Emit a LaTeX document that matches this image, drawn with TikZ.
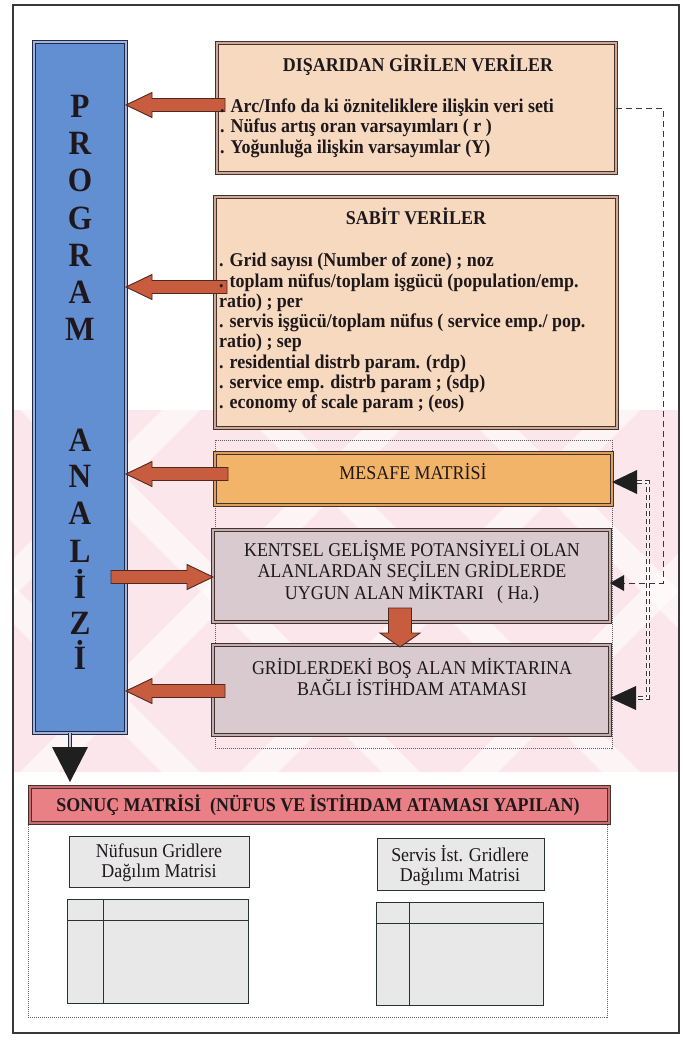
\documentclass[tikz,border=0pt]{standalone}
\usepackage{fontspec}
\setmainfont{Liberation Serif}[FakeStretch=0.92]
\usetikzlibrary{calc,arrows.meta}

\definecolor{framecol}{RGB}{55,55,60}
\definecolor{inkcol}{RGB}{30,24,28}
\definecolor{barfill}{RGB}{98,143,210}
\definecolor{barline}{RGB}{35,40,70}
\definecolor{bargap}{RGB}{160,180,220}
\definecolor{peach}{RGB}{246,217,190}
\definecolor{brownline}{RGB}{70,50,42}
\definecolor{browngap}{RGB}{205,170,150}
\definecolor{orangefill}{RGB}{241,180,104}
\definecolor{orangegap}{RGB}{220,160,90}
\definecolor{mauvefill}{RGB}{216,202,207}
\definecolor{mauvegap}{RGB}{190,175,180}
\definecolor{salmon}{RGB}{232,128,133}
\definecolor{salmongap}{RGB}{200,110,115}
\definecolor{arrowfill}{RGB}{200,92,62}
\definecolor{arrowline}{RGB}{80,40,32}
\definecolor{matfill}{RGB}{232,232,232}
\definecolor{matline}{RGB}{40,50,50}
\definecolor{wmpink}{RGB}{251,231,235}
\definecolor{dashcol}{RGB}{55,55,60}
\definecolor{dotcol}{RGB}{95,95,100}
\definecolor{stemgap}{RGB}{200,200,205}

\newcommand\fatsw{6.5pt}
\newcommand\fathw{12.5pt}
\newcommand\fathl{26pt}

\begin{document}
\begin{tikzpicture}[x=1pt,y=-1pt,
  boxbase/.style={rectangle, inner sep=0pt, outer sep=0pt},
  dblbox/.style={boxbase, line width=1.2pt, double distance=1.5pt},
  progbar/.style={dblbox, fill=barfill, draw=barline, double=bargap},
  databox/.style={dblbox, fill=peach, draw=brownline, double=browngap},
  orangebox/.style={dblbox, fill=orangefill, draw=brownline, double=orangegap},
  mauvebox/.style={dblbox, fill=mauvefill, draw=brownline, double=mauvegap},
  resultbar/.style={dblbox, fill=salmon, draw=brownline, double=salmongap},
  matbox/.style={boxbase, fill=matfill, draw=matline, line width=0.9pt},
  dotframe/.style={boxbase, draw=dotcol, line width=0.7pt, dash pattern=on 1pt off 1pt},
  boldtxt/.style={inner sep=0pt, text=inkcol, font=\fontsize{19.5}{20.5}\selectfont\bfseries},
  regtxt/.style={inner sep=0pt, text=inkcol, font=\fontsize{19.5}{21}\selectfont},
  bigletter/.style={inner sep=0pt, anchor=base, text=inkcol, font=\fontsize{34}{34}\selectfont\bfseries},
  fatshaft/.code={\def\fatsw{#1}},
  fathead/.code={\def\fathw{#1}},
  fatlen/.code={\def\fathl{#1}},
  fatarrow/.style={fill=arrowfill, draw=arrowline, line width=0.9pt, line join=miter,
    to path={let \p1=(\tikztostart), \p2=(\tikztotarget),
      \n1={atan2(\y2-\y1,\x2-\x1)}, \n2={veclen(\x2-\x1,\y2-\y1)-\fathl} in
      ($(\p1)+(\n1+90:\fatsw)$) -- ($(\p1)+(\n1:{\n2*1pt})+(\n1+90:\fatsw)$)
      -- ($(\p1)+(\n1:{\n2*1pt})+(\n1+90:\fathw)$) -- (\p2)
      -- ($(\p1)+(\n1:{\n2*1pt})+(\n1-90:\fathw)$)
      -- ($(\p1)+(\n1:{\n2*1pt})+(\n1-90:\fatsw)$)
      -- ($(\p1)+(\n1-90:\fatsw)$) -- cycle}},
  feedline/.style={draw=dashcol, line width=0.9pt, dash pattern=on 6pt off 4pt},
  feeddouble/.style={draw=dashcol, line width=0.9pt, double=white, double distance=2.2pt,
    dash pattern=on 5pt off 3pt},
  blackhead/.style={fill=black!88}
]
\useasboundingbox (0,0) rectangle (682,1043);
\fill[white] (0,0) rectangle (682,1043);

% pale pink band with white diagonal stripes behind the middle section
\begin{scope}
  \clip (14,410) rectangle (679,772);
  \fill[wmpink] (14,410) rectangle (679,772);
  \foreach \s in {-420,-200,...,800} {
    \fill[white, opacity=0.55] (\s,410) -- ++(38,0) -- ++(362,362) -- ++(-38,0) -- cycle;
    \fill[white, opacity=0.55] (\s,772) -- ++(38,0) -- ++(362,-362) -- ++(-38,0) -- cycle;
  }
\end{scope}

% page frame
\node[boxbase, draw=framecol, line width=1.3pt, minimum width=666pt, minimum height=1028pt]
  (frame) at (346,519) {};

% dotted frames around the middle and bottom groups
\node[dotframe, minimum width=397pt, minimum height=308pt] (midframe) at (413.5,594) {};
\node[dotframe, minimum width=579pt, minimum height=194pt] (botframe) at (317.5,920) {};

% program bar
\node[progbar, minimum width=92pt, minimum height=691pt] (bar) at (80,387.5) {};
\foreach \ch/\yy [count=\i] in {P/118,R/155,O/192,G/229,R/266,A/303,M/340,
                               A/451,N/487,A/524,L/562,İ/598,Z/634,İ/669}
  \node[bigletter] (let\i) at (80,\yy) {\ch};

% box frames
\node[databox, minimum width=399pt, minimum height=130pt] (ext) at (416.5,108) {};
\node[databox, minimum width=402pt, minimum height=231pt] (fix) at (416,312.5) {};
\node[orangebox, minimum width=397pt, minimum height=52pt] (dist) at (413.5,479) {};
\node[mauvebox, minimum width=397pt, minimum height=92pt] (land) at (411.5,576) {};
\node[mauvebox, minimum width=397pt, minimum height=90pt] (emp) at (411.5,690) {};
\node[resultbar, minimum width=579pt, minimum height=36pt] (res) at (319.5,805) {};

% block arrows between the program bar and the boxes
\draw[fatarrow] ([xshift=8pt,yshift=3pt]ext.west) to ([yshift=3pt]bar.east |- ext.west);
\draw[fatarrow] ([xshift=12pt,yshift=25.5pt]fix.west) to ([yshift=25.5pt]bar.east |- fix.west);
\draw[fatarrow] ([xshift=13pt,yshift=5pt]dist.west) to ([yshift=5pt]bar.east |- dist.west);
\draw[fatarrow] ([xshift=-15pt,yshift=-1pt]bar.east |- land.west) to ([yshift=-1pt]land.west);
\draw[fatarrow] ([xshift=12pt,yshift=-1pt]emp.west) to ([yshift=-1pt]bar.east |- emp.west);
\draw[fatarrow, fatshaft=11.5pt, fathead=20pt, fatlen=14pt]
  ([xshift=-11.5pt,yshift=14pt]land.south) to ([xshift=-11.5pt,yshift=-2pt]emp.north);

% box texts
\node[boldtxt, anchor=base] (extT) at (418,71.5) {DIŞARIDAN GİRİLEN VERİLER};
\node[boldtxt, anchor=west, align=left] (extB) at (220,128) {%
. Arc/Info da ki özniteliklere ilişkin veri seti\\
. Nüfus artış oran varsayımları ( r )\\
. Yoğunluğa ilişkin varsayımlar (Y)};

\node[boldtxt, anchor=base] (fixT) at (416,224.5) {SABİT VERİLER};
\node[boldtxt, anchor=west, align=left, font=\fontsize{19.5}{20.3}\selectfont\bfseries] (fixB) at (219,333) {%
. Grid sayısı (Number of zone) ; noz\\
. toplam nüfus/toplam işgücü (population/emp.\\
ratio) ; per\\
. servis işgücü/toplam nüfus ( service emp./ pop.\\
ratio) ; sep\\
. residential distrb param. (rdp)\\
. service emp. distrb param ; (sdp)\\
. economy of scale param ; (eos)};

\node[regtxt, anchor=base] (distT) at (413,479.5) {MESAFE MATRİSİ};
\node[regtxt, align=center, font=\fontsize{19.5}{21.5}\selectfont] (landT) at (412,572) {%
KENTSEL GELİŞME POTANSİYELİ OLAN\\
ALANLARDAN SEÇİLEN GRİDLERDE\\
UYGUN ALAN MİKTARI\ \ \ ( Ha.)};
\node[regtxt, align=center] (empT) at (412,677) {%
GRİDLERDEKİ BOŞ ALAN MİKTARINA\\
BAĞLI İSTİHDAM ATAMASI};

% result section
\node[boldtxt, anchor=base] (resT) at (318,811.5) {SONUÇ MATRİSİ\ \ (NÜFUS VE İSTİHDAM ATAMASI YAPILAN)};

\node[matbox, minimum width=180pt, minimum height=51pt] (popH) at (159,861.5) {};
\node[regtxt, align=center, font=\fontsize{19.5}{20}\selectfont] (popT) at (159,863) {Nüfusun Gridlere\\Dağılım Matrisi};
\node[matbox, minimum width=181pt, minimum height=104pt] (popM) at (157.5,951) {};
\draw[matline, line width=0.9pt] (popM.north -| 103,0) -- (popM.south -| 103,0);
\draw[matline, line width=0.9pt] (popM.west |- 0,920) -- (popM.east |- 0,920);

\node[matbox, minimum width=167pt, minimum height=52pt] (srvH) at (460.5,864) {};
\node[regtxt, align=center, font=\fontsize{19.5}{20}\selectfont] (srvT) at (460,866) {Servis İst. Gridlere\\Dağılımı Matrisi};
\node[matbox, minimum width=167pt, minimum height=103pt] (srvM) at (459.5,953.5) {};
\draw[matline, line width=0.9pt] (srvM.north -| 409,0) -- (srvM.south -| 409,0);
\draw[matline, line width=0.9pt] (srvM.west |- 0,923) -- (srvM.east |- 0,923);

% program bar to result matrix
\coordinate (stemTop) at ([xshift=-10pt]bar.south);
\coordinate (stemEnd) at ([xshift=-10pt,yshift=-14pt]bar.south);
\draw[barline, line width=1.1pt, double=stemgap, double distance=2.5pt] (stemTop) -- (stemEnd);
\fill[blackhead] ([xshift=-18pt]stemEnd) -- ([xshift=18pt]stemEnd) -- ([yshift=5pt]stemEnd |- res.north) -- cycle;

% feedback connectors on the right
\coordinate (landIn) at ([yshift=-7pt]land.east);
\coordinate (landTail) at ([xshift=14pt]landIn);
\draw[feedline] (ext.east) -- ++(47,0) |- (landTail);
\fill[blackhead] (landIn) -- ([yshift=8pt]landTail) -- ([yshift=-8pt]landTail) -- cycle;

\coordinate (distIn) at ([yshift=-3pt]dist.east);
\coordinate (distTail) at ([xshift=25pt]distIn);
\coordinate (empIn) at ([yshift=-8pt]emp.east);
\coordinate (empTail) at ([xshift=26pt]empIn);
\draw[feeddouble] (distTail) -- ++(11,0) |- (empTail);
\fill[blackhead] (distIn) -- ([yshift=12pt]distTail) -- ([yshift=-12pt]distTail) -- cycle;
\fill[blackhead] (empIn) -- ([yshift=12pt]empTail) -- ([yshift=-12pt]empTail) -- cycle;
\end{tikzpicture}
\end{document}
